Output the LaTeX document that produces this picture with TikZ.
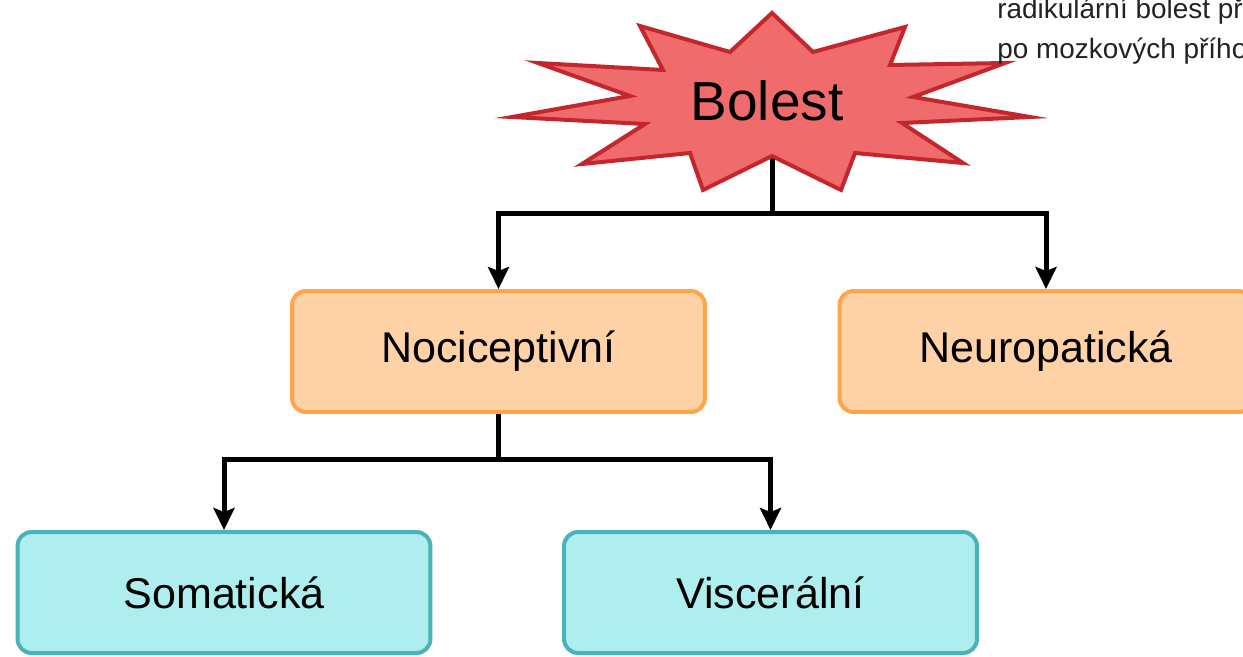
\documentclass[tikz,border=0pt]{standalone}
\usepackage{fontspec}
\setmainfont{Liberation Sans}
\usepackage{xcolor}
\usetikzlibrary{positioning, arrows.meta, backgrounds}
\definecolor{starfill}{HTML}{F06B6B}
\definecolor{starline}{HTML}{C4262E}
\definecolor{orfill}{HTML}{FFD1A6}
\definecolor{orline}{HTML}{FFA64D}
\definecolor{cyfill}{HTML}{AFEEEE}
\definecolor{cyline}{HTML}{4BB3B8}
\definecolor{notetext}{HTML}{222222}
\tikzset{
  painbox/.style={rectangle, draw=orline, line width=0.08cm, rounded corners=0.28cm,
                  fill=orfill, minimum width=8.26cm, minimum height=2.42cm,
                  align=center, font=\fontsize{24.5}{28}\selectfont},
  kindbox/.style={rectangle, draw=cyline, line width=0.08cm, rounded corners=0.28cm,
                  fill=cyfill, minimum width=8.26cm, minimum height=2.42cm,
                  align=center, font=\fontsize{24.5}{28}\selectfont},
  starshape/.style={draw=starline, fill=starfill, line width=0.08cm, line join=miter},
  notetxt/.style={anchor=base west, inner sep=0pt, text=notetext,
                  font=\fontsize{15.9}{22.8}\selectfont},
  joinline/.style={line width=0.1cm, draw=black},
  myarr/.style={-{Stealth[length=0.44cm, width=0.42cm, inset=0.08cm]},
                line width=0.1cm, draw=black},
}
\begin{document}
\begin{tikzpicture}[x=0.02cm, y=-0.02cm]
  \useasboundingbox (0,0) rectangle (1243,656);
  \clip (0,0) rectangle (1243,656);

  %% Burst
  \draw[starshape] (772,13) -- (813,52) -- (905,27) -- (890,65) -- (1005,63)
    -- (913,97) -- (1030,117) -- (902,123) -- (963,163) -- (855,153)
    -- (841,190) -- (772,156) coordinate (burstfoot) -- (703,190) -- (690,153)
    -- (582,164) -- (645,124) -- (512,117) -- (630,96) -- (538,63)
    -- (663,70) -- (640,26) -- (730,52) -- cycle;
  \node[font=\fontsize{31.3}{36}\selectfont] (bolest) at (767,101) {Bolest};

  %% Side note
  \node[notetxt] (note1) at (997,18) {radikulární bolest př};
  \node[notetxt] (note2) at (997,58) {po mozkových přího};

  %% Two main kinds
  \node[painbox] (noci)  at (498.5,351.5) {Nociceptivní};
  \node[painbox] (neuro) at (1046,351.5)  {Neuropatická};

  %% Nociceptive subkinds
  \node[kindbox] (soma) at (224,592.5)   {Somatická};
  \node[kindbox] (visc) at (770.5,592.5) {Viscerální};

  %% Arrows
  \coordinate (split1) at (772,213);
  \coordinate (split2) at (498.5,459);
  \begin{pgfonlayer}{background}
    \draw[joinline] (burstfoot) -- (split1);
    \draw[myarr] (split1) -| (noci.north);
    \draw[myarr] (split1) -| (neuro.north);
    \draw[joinline] (noci.south) -- (split2);
    \draw[myarr] (split2) -| (soma.north);
    \draw[myarr] (split2) -| (visc.north);
  \end{pgfonlayer}

\end{tikzpicture}
\end{document}
